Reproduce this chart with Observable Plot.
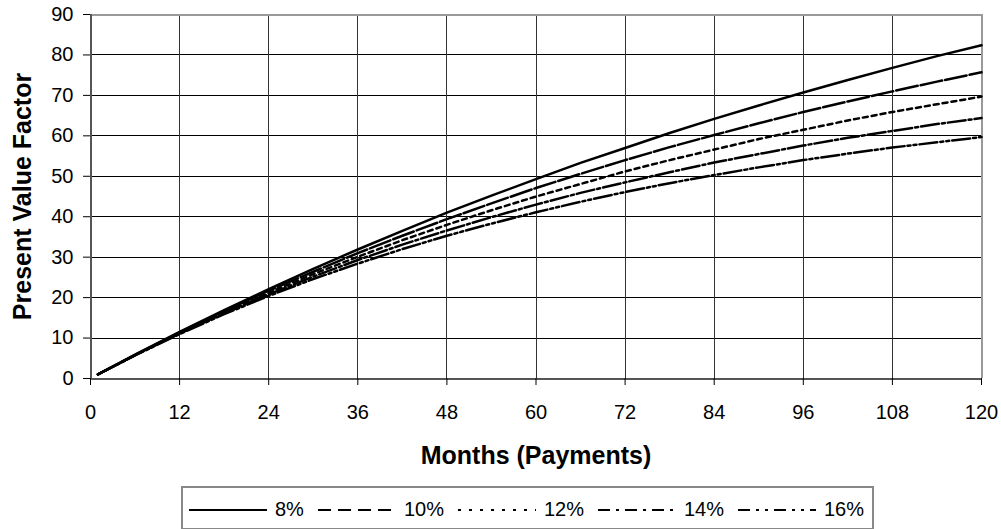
<!DOCTYPE html>
<html>
<head>
<meta charset="utf-8">
<script src="https://cdn.jsdelivr.net/npm/d3@7"></script>
<script src="https://cdn.jsdelivr.net/npm/@observablehq/plot@0.6"></script>
<style>
  html, body { margin: 0; padding: 0; background: #fff; }
  #wrap { position: relative; width: 1001px; height: 529px; font-family: Arial, "Liberation Sans", sans-serif; }
  #legend { position: absolute; left: 181px; top: 486px; width: 683px; height: 37px;
    border: 2px solid #888; display: flex; align-items: center; padding-left: 6px; padding-top: 3px; box-sizing: content-box;
    font-size: 20px; color: #000; }
  #legend .item { display: flex; align-items: center; margin-right: 14px; }
  #legend svg { margin-right: 8px; }
</style>
</head>
<body>
<div id="wrap"></div>
<script>
// ---- data ----
const months = [1, 6, 12, 18, 24, 30, 36, 42, 48, 54, 60, 66, 72, 78, 84, 90, 96, 102, 108, 114, 120];
const series = ["8%", "10%", "12%", "14%", "16%"];
const rate8  = [1.0, 5.9, 11.5, 16.9, 22.1, 27.1, 31.9, 36.5, 41.0, 45.2, 49.3, 53.3, 57.0, 60.7, 64.2, 67.5, 70.7, 73.8, 76.8, 79.7, 82.4];
const rate10 = [1.0, 5.8, 11.4, 16.7, 21.7, 26.4, 31.0, 35.3, 39.4, 43.3, 47.1, 50.6, 54.0, 57.2, 60.2, 63.1, 65.9, 68.5, 71.0, 73.4, 75.7];
const rate12 = [1.0, 5.8, 11.3, 16.4, 21.2, 25.8, 30.1, 34.2, 38.0, 41.6, 45.0, 48.1, 51.2, 54.0, 56.6, 59.2, 61.5, 63.8, 65.9, 67.8, 69.7];
const rate14 = [1.0, 5.8, 11.1, 16.2, 20.8, 25.2, 29.3, 33.1, 36.6, 39.9, 43.0, 45.9, 48.5, 51.0, 53.4, 55.5, 57.6, 59.5, 61.2, 62.9, 64.4];
const rate16 = [1.0, 5.7, 11.0, 15.9, 20.4, 24.6, 28.4, 32.0, 35.3, 38.3, 41.1, 43.7, 46.1, 48.3, 50.3, 52.2, 54.0, 55.6, 57.1, 58.4, 59.7];
const xTicks = [0, 12, 24, 36, 48, 60, 72, 84, 96, 108, 120];
const yTicks = [0, 10, 20, 30, 40, 50, 60, 70, 80, 90];
const xTitle = "Months (Payments)";
const yTitle = "Present Value Factor";

// ---- styles ----
const allValues = [rate8, rate10, rate12, rate14, rate16];
const plotDash = [null, "22,3", "5,4", "18,3,3,3", "18,3,3,3,3,3"];
const legendDash = [null, "13,7", "3,8", "12,6,3,6", "12,6,3,6,3,6"];

const rows = series.map((s, i) => months.map((m, j) => ({month: m, value: allValues[i][j], series: s})));

const lineMarks = rows.map((r, i) =>
  Plot.line(r, {x: "month", y: "value", stroke: "#000", strokeWidth: 2.5,
    strokeDasharray: plotDash[i] || undefined, strokeLinejoin: "round"})
);

const crisp = {shapeRendering: "crispEdges"};

const chart = Plot.plot({
  width: 1001,
  height: 529,
  marginLeft: 90,
  marginRight: 20,
  marginTop: 14,
  marginBottom: 151,
  style: {fontFamily: "Arial, 'Liberation Sans', sans-serif", fontSize: "20px", background: "#fff", color: "#000"},
  x: {domain: [0, 120]},
  y: {domain: [0, 90]},
  marks: [
    Plot.gridY(yTicks, {stroke: "#000", strokeOpacity: 1, strokeWidth: 1, ...crisp}),
    Plot.gridX(xTicks, {stroke: "#333", strokeOpacity: 1, strokeWidth: 1, ...crisp}),
    Plot.ruleY([90], {stroke: "#999", strokeWidth: 2, ...crisp}),
    Plot.ruleX([120], {stroke: "#999", strokeWidth: 2, ...crisp}),
    ...lineMarks,
    Plot.ruleX([0], {stroke: "#555", strokeWidth: 2, ...crisp}),
    Plot.ruleY([0], {stroke: "#555", strokeWidth: 2, ...crisp}),
    Plot.axisY(yTicks, {tickSize: 7, tickPadding: 10, label: null, fontSize: 20}),
    Plot.axisX(xTicks, {tickSize: 7, tickPadding: 19, label: null, fontSize: 20}),
    Plot.text([xTitle], {frameAnchor: "bottom", dy: 77, text: d => d, fontSize: 25, fontWeight: "bold", lineAnchor: "middle"}),
    Plot.text([yTitle], {frameAnchor: "left", dx: -68, rotate: -90, text: d => d, fontSize: 25, fontWeight: "bold", lineAnchor: "middle", textAnchor: "middle"})
  ]
});

const wrap = document.getElementById("wrap");
wrap.appendChild(chart);

// ---- legend ----
const legend = document.createElement("div");
legend.id = "legend";
series.forEach((s, i) => {
  const item = document.createElement("div");
  item.className = "item";
  const svg = d3.create("svg").attr("width", 78).attr("height", 10);
  svg.append("line").attr("x1", 0).attr("x2", 78).attr("y1", 5).attr("y2", 5)
    .attr("stroke", "#000").attr("stroke-width", 2)
    .attr("stroke-dasharray", legendDash[i]);
  item.appendChild(svg.node());
  const label = document.createElement("span");
  label.textContent = s;
  item.appendChild(label);
  legend.appendChild(item);
});
wrap.appendChild(legend);
</script>
</body>
</html>
